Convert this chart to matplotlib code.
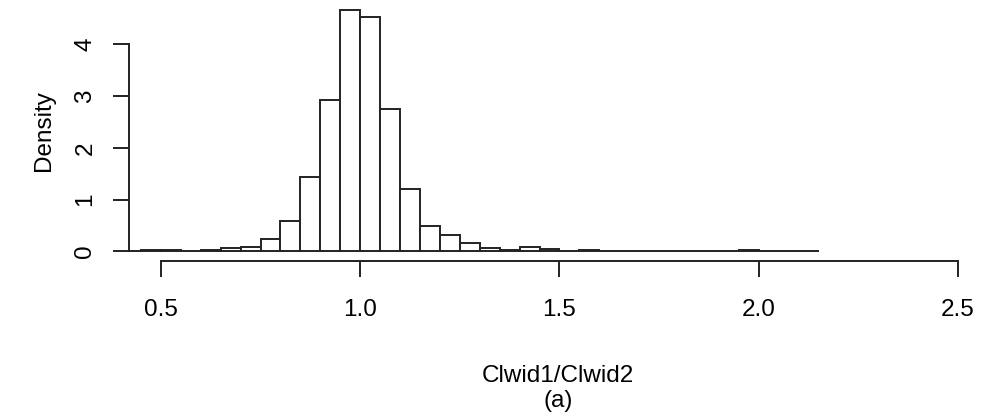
import numpy as np
import matplotlib.pyplot as plt

plt.rcParams['font.family'] = ['Liberation Sans', 'DejaVu Sans']

# histogram breaks (width 0.05) and densities
breaks = [0.40, 0.45, 0.50, 0.55, 0.60, 0.65, 0.70, 0.75, 0.80, 0.85, 0.90, 0.95,
          1.00, 1.05, 1.10, 1.15, 1.20, 1.25, 1.30, 1.35, 1.40, 1.45, 1.50, 1.55,
          1.60, 1.65, 1.70, 1.75, 1.80, 1.85, 1.90, 1.95, 2.00, 2.05, 2.10, 2.15]
density = [0.0, 0.02, 0.02, 0.0, 0.02, 0.065, 0.09, 0.24, 0.59, 1.43, 2.93, 4.67,
           4.52, 2.76, 1.21, 0.49, 0.31, 0.16, 0.065, 0.035, 0.08, 0.05, 0.0, 0.02,
           0.0, 0.0, 0.0, 0.0, 0.0, 0.0, 0.0, 0.02, 0.0, 0.0, 0.0]
x_ticks = [0.5, 1.0, 1.5, 2.0, 2.5]
y_ticks = [0, 1, 2, 3, 4]

W, H = 982, 419
fig = plt.figure(figsize=(W / 100, H / 100), dpi=100)
ax = fig.add_axes([129 / W, 158 / H, 861 / W, 261 / H])

lefts = np.array(breaks[:-1])
widths = np.diff(breaks)
ax.bar(lefts, density, width=widths, align='edge', facecolor='white',
       edgecolor='#222222', linewidth=1.4)

top = max(density) * 1.04
ax.set_xlim(0.42, 2.58)
ax.set_ylim(-0.04 * max(density), top)

for s in ['top', 'right']:
    ax.spines[s].set_visible(False)
for s in ['left', 'bottom']:
    ax.spines[s].set_linewidth(1.4)
    ax.spines[s].set_color('#222222')
ax.spines['bottom'].set_bounds(0.5, 2.5)
ax.spines['left'].set_bounds(0, 4)

ax.set_xticks(x_ticks)
ax.set_xticklabels(['0.5', '1.0', '1.5', '2.0', '2.5'])
ax.set_yticks(y_ticks)
ax.set_yticklabels(['0', '1', '2', '3', '4'], rotation=90, va='center')
ax.tick_params(axis='both', length=11.5, width=1.4, color='#222222',
               labelsize=17.5)
ax.tick_params(axis='x', pad=16)
ax.tick_params(axis='y', pad=12)

ax.set_ylabel('Density', fontsize=17.5, labelpad=14)
fig.text(558 / W, 1 - 376 / H, 'Clwid1/Clwid2', ha='center', va='center',
         fontsize=17.5)
fig.text(558 / W, 1 - 401 / H, '(a)', ha='center', va='center', fontsize=17.5)

fig.savefig('out.png', dpi=100)
